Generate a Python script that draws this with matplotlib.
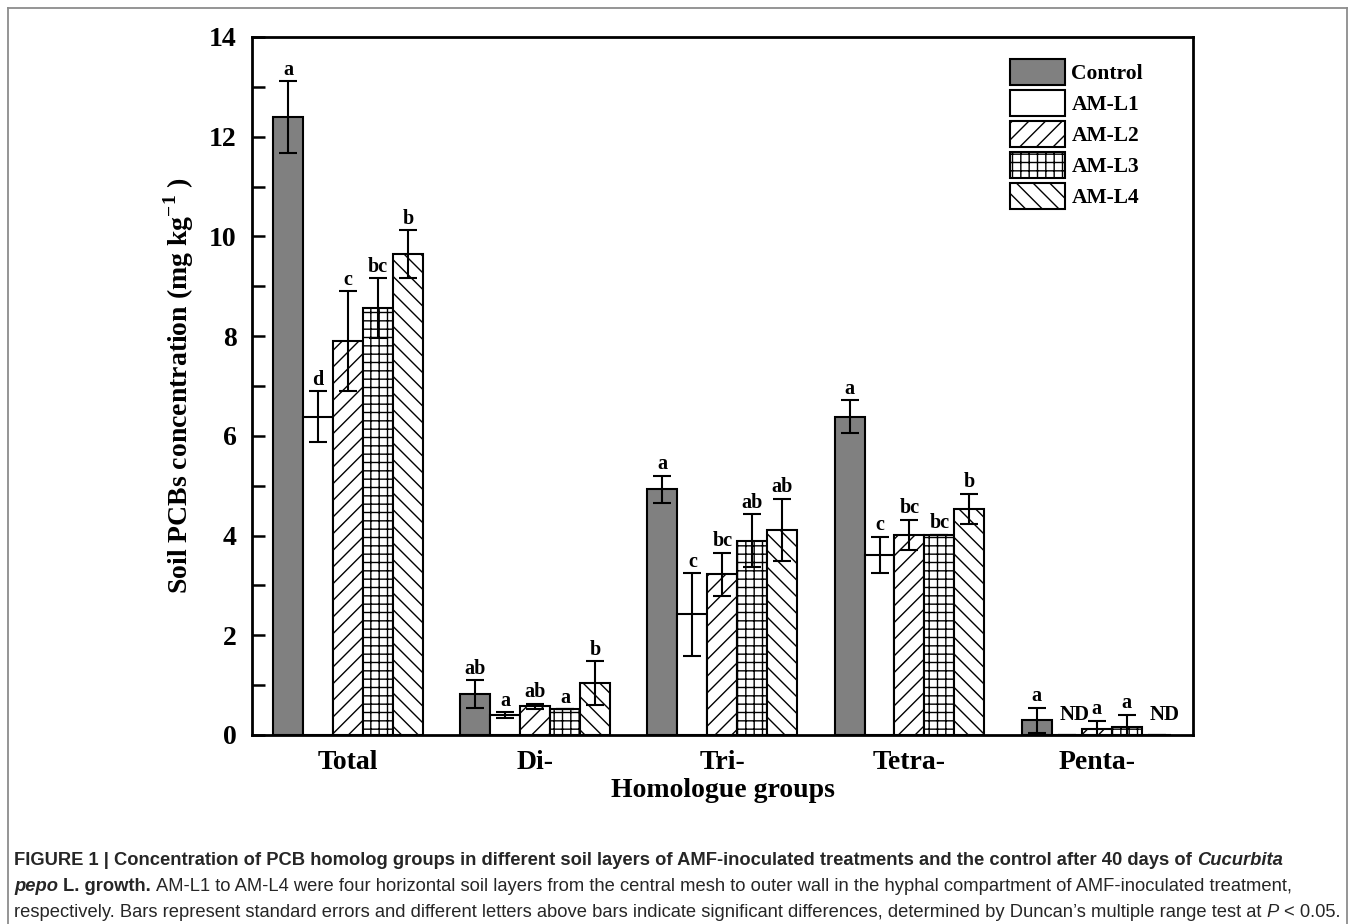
import numpy as np
import matplotlib
matplotlib.use('Agg')
import matplotlib.pyplot as plt
from matplotlib.lines import Line2D

plt.rcParams['font.family'] = ['Liberation Serif', 'DejaVu Serif']
plt.rcParams['font.weight'] = 'bold'
plt.rcParams['mathtext.fontset'] = 'custom'
plt.rcParams['mathtext.rm'] = 'Liberation Serif:bold'
plt.rcParams['mathtext.bf'] = 'Liberation Serif:bold'
plt.rcParams['hatch.linewidth'] = 1.0

groups = ['Total', 'Di-', 'Tri-', 'Tetra-', 'Penta-']
series = ['Control', 'AM-L1', 'AM-L2', 'AM-L3', 'AM-L4']

# mean values per series, one value per homologue group
control = [12.39, 0.82, 4.93, 6.38, 0.30]
am_l1 = [6.38, 0.40, 2.42, 3.61, 0.0]
am_l2 = [7.90, 0.58, 3.22, 4.02, 0.12]
am_l3 = [8.56, 0.52, 3.90, 4.02, 0.16]
am_l4 = [9.65, 1.04, 4.11, 4.54, 0.0]

# standard errors
control_se = [0.72, 0.28, 0.27, 0.33, 0.25]
am_l1_se = [0.51, 0.06, 0.83, 0.37, 0.0]
am_l2_se = [1.00, 0.05, 0.44, 0.30, 0.17]
am_l3_se = [0.60, 0.0, 0.53, 0.0, 0.25]
am_l4_se = [0.48, 0.44, 0.63, 0.30, 0.0]

# significance letters ('ND' = not detected)
control_lt = ['a', 'ab', 'a', 'a', 'a']
am_l1_lt = ['d', 'a', 'c', 'c', 'ND']
am_l2_lt = ['c', 'ab', 'bc', 'bc', 'a']
am_l3_lt = ['bc', 'a', 'ab', 'bc', 'a']
am_l4_lt = ['b', 'b', 'ab', 'b', 'ND']

means = [control, am_l1, am_l2, am_l3, am_l4]
errs = [control_se, am_l1_se, am_l2_se, am_l3_se, am_l4_se]
letters = [control_lt, am_l1_lt, am_l2_lt, am_l3_lt, am_l4_lt]
colors = ['#808080', 'white', 'white', 'white', 'white']
hatches = [None, None, '//', '++', '\\\\']

fig = plt.figure(figsize=(13.55, 9.24), dpi=100)
ax = fig.add_axes([252 / 1355, 1 - 735 / 924, 941 / 1355, 698 / 924])

x = np.arange(1, len(groups) + 1)
w = 0.16
for i in range(len(series)):
    pos = x + (i - 2) * w
    ax.bar(pos, means[i], w, color=colors[i], edgecolor='black', linewidth=1.5,
           hatch=hatches[i], label=series[i], zorder=2)
    ax.errorbar(pos, means[i], yerr=errs[i], fmt='none', ecolor='black',
                elinewidth=1.5, capsize=6.5, capthick=1.5, zorder=3)
    for j in range(len(groups)):
        lt = letters[i][j]
        if lt == 'ND':
            ax.annotate('ND', (pos[j], means[i][j]), xytext=(6, 7),
                        textcoords='offset points', ha='center', va='bottom',
                        fontsize=15, fontweight='bold')
        elif lt:
            ax.annotate(lt, (pos[j], means[i][j] + errs[i][j]), xytext=(0, 1),
                        textcoords='offset points', ha='center', va='bottom',
                        fontsize=14.5, fontweight='bold')

ax.set_xlim(0.487, 5.515)
ax.set_ylim(0, 14)
ax.set_xticks(x)
ax.set_xticklabels(groups)
ax.set_yticks(np.arange(0, 15, 2))
ax.set_yticks(np.arange(1, 14, 2), minor=True)
ax.tick_params(axis='x', length=0, pad=11, labelsize=20)
ax.tick_params(axis='y', which='both', direction='in', length=9, width=1.8,
               pad=11, labelsize=20)
for s in ax.spines.values():
    s.set_linewidth(2.0)

ax.set_xlabel('Homologue groups', fontsize=20, fontweight='bold', labelpad=2)
ax.set_ylabel(r'Soil PCBs concentration (mg kg$^{\mathbf{-1}}$ )', fontsize=20,
              fontweight='bold', labelpad=9)

leg = ax.legend(loc='upper left', bbox_to_anchor=(0.8055, 0.968), frameon=False,
                fontsize=15.5, handlelength=2.55, handleheight=1.45,
                labelspacing=0.25, handletextpad=0.3, borderpad=0, borderaxespad=0)
for t in leg.get_texts():
    t.set_fontweight('bold')

# outer frame of the figure panel
for xs, ys in [([8, 8], [0, 916]), ([8, 1347], [916, 916]), ([1347, 1347], [0, 916])]:
    fig.add_artist(Line2D([v / 1355 for v in xs], [v / 924 for v in ys],
                          color='#8c8c8c', linewidth=1.3))

# caption, drawn in runs of mixed style
renderer = fig.canvas.get_renderer()
cap_font = ['Liberation Sans', 'DejaVu Sans']
cap_size = 13.2


def space_width(weight, style):
    a = fig.text(0, 0, 'x x', fontsize=cap_size, family=cap_font, weight=weight, style=style)
    b = fig.text(0, 0, 'xx', fontsize=cap_size, family=cap_font, weight=weight, style=style)
    sw = a.get_window_extent(renderer).width - b.get_window_extent(renderer).width
    a.remove()
    b.remove()
    return sw


def draw_line(runs, y_px):
    xp = 14.0
    for txt, weight, style in runs:
        lead = len(txt) - len(txt.lstrip(' '))
        trail = len(txt) - len(txt.rstrip(' '))
        sw = space_width(weight, style)
        xp += lead * sw
        t = fig.text(xp / 1355, 1 - y_px / 924, txt.strip(' '), fontsize=cap_size,
                     family=cap_font, weight=weight, style=style, color='#262626',
                     va='baseline', ha='left')
        xp += t.get_window_extent(renderer).width + trail * sw


draw_line([('FIGURE 1 | Concentration of PCB homolog groups in different soil layers of '
            'AMF-inoculated treatments and the control after 40 days of ', 'bold', 'normal'),
           ('Cucurbita', 'bold', 'italic')], 865)
draw_line([('pepo', 'bold', 'italic'), (' L. growth.', 'bold', 'normal'),
           (' AM-L1 to AM-L4 were four horizontal soil layers from the central mesh to outer '
            'wall in the hyphal compartment of AMF-inoculated treatment,', 'normal', 'normal')], 891)
draw_line([('respectively. Bars represent standard errors and different letters above bars '
            'indicate significant differences, determined by Duncan\u2019s multiple range test at ',
            'normal', 'normal'),
           ('P', 'normal', 'italic'), (' < 0.05.', 'normal', 'normal')], 917)

fig.savefig('out.png', dpi=100)
